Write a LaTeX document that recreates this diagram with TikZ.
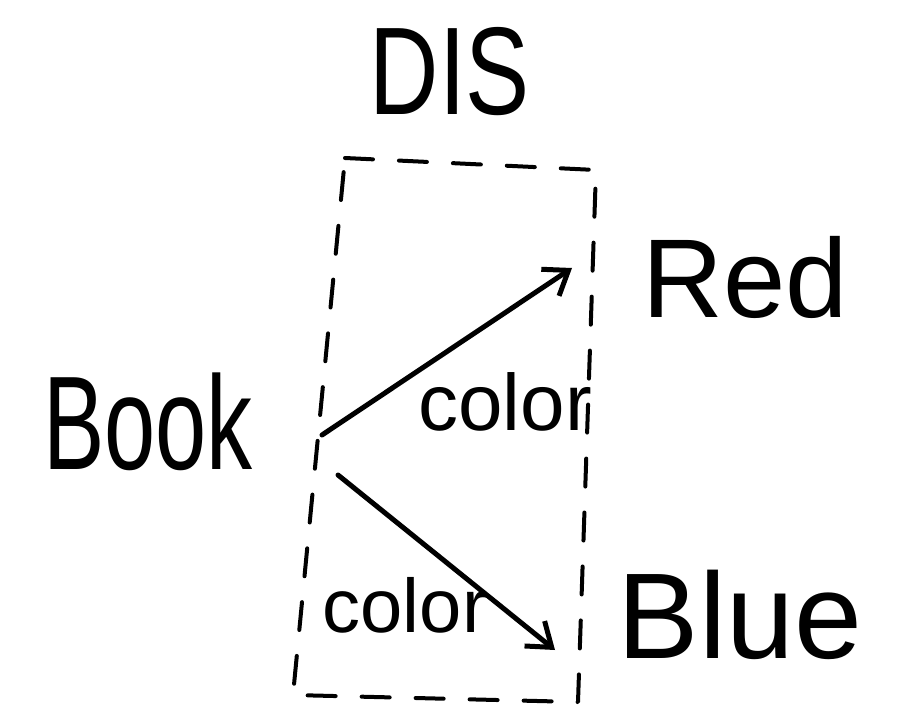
\documentclass[tikz,border=0pt]{standalone}
\usepackage{fontspec}
\setmainfont{Liberation Sans}
\usetikzlibrary{arrows.meta}
\tikzset{
  hand/.style={inner sep=0pt, anchor=center},
  boxline/.style={line width=4pt, dash pattern=on 28pt off 26pt, line cap=round, line join=round},
  rel/.style={line width=5pt, line cap=round, -{Straight Barb[length=22pt,width=32pt,line width=5pt]}},
}
\begin{document}
\begin{tikzpicture}[x=1pt,y=-1pt]
\useasboundingbox (0,0) rectangle (904,719);
% title
\node[hand] (dis) at (450,72) {\scalebox{1}[1.3]{\fontsize{96}{110}\selectfont DIS}};
% dashed box
\coordinate (tl) at (345,158);
\coordinate (tr) at (596,170);
\coordinate (br) at (578,702);
\coordinate (bl) at (293,695);
\draw[boxline] (tl) -- (tr) -- (br) -- (bl) -- cycle;
% nodes
\node[hand] (red) at (745,277) {\fontsize{112}{120}\selectfont Red};
\node[hand] (book) at (148,422) {\scalebox{1}[1.45]{\fontsize{92}{100}\selectfont Book}};
\node[hand] (blue) at (740,615) {\fontsize{122}{130}\selectfont Blue};
% arrow anchors
\coordinate (b1) at (322,435);
\coordinate (r1) at (572,268);
\coordinate (b2) at (338,475);
\coordinate (u1) at (555,650);
\draw[rel] (b1) -- (r1);
\draw[rel] (b2) -- (u1);
% labels
\node[hand] (l1) at (505,402) {\fontsize{80}{90}\selectfont color};
\node[hand] (l2) at (405,605) {\fontsize{76}{86}\selectfont color};
\end{tikzpicture}
\end{document}
